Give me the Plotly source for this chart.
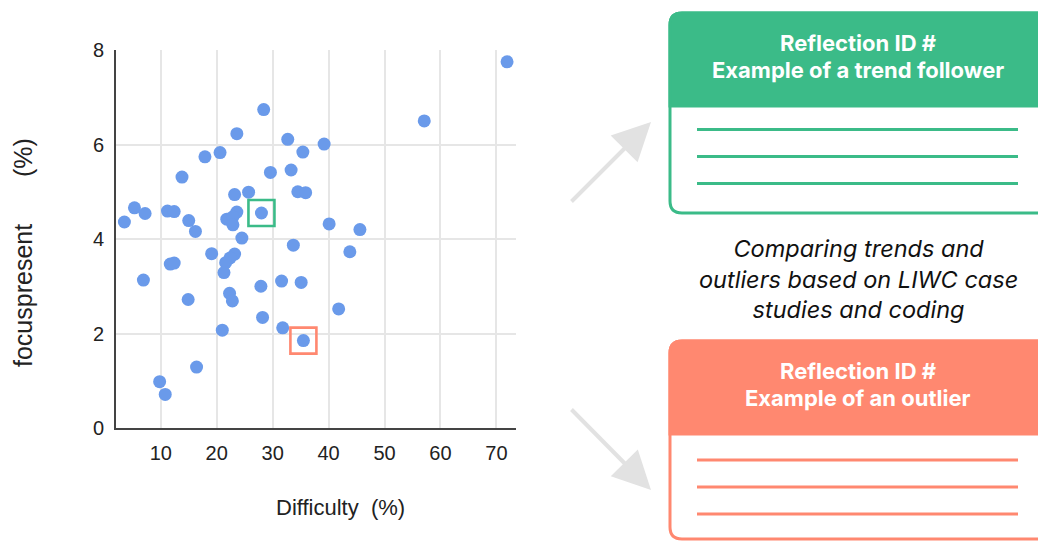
import plotly.graph_objects as go

W, H = 1038, 541

# ---- data ----
difficulty = [71.9, 57.1, 28.4, 23.6, 32.7, 39.2, 35.4, 20.6, 17.9, 13.8,
              29.6, 33.3, 25.7, 23.2, 34.5, 35.9, 5.3, 7.2, 3.5, 11.2,
              12.4, 15.0, 16.2, 28.0, 23.6, 21.8, 22.9, 22.9, 24.5, 40.1,
              45.6, 33.7, 43.8, 19.1, 23.2, 22.4, 21.6, 11.7, 12.4, 21.3,
              6.9, 27.9, 31.6, 35.1, 22.3, 22.8, 14.9, 28.2, 31.8, 21.0,
              35.5, 41.8, 16.4, 9.8, 10.8]
focuspresent = [7.75, 6.50, 6.74, 6.23, 6.11, 6.01, 5.84, 5.83, 5.74, 5.31,
                5.41, 5.46, 4.99, 4.94, 5.00, 4.98, 4.66, 4.54, 4.36, 4.59,
                4.58, 4.39, 4.16, 4.55, 4.57, 4.42, 4.47, 4.30, 4.02, 4.32,
                4.20, 3.87, 3.73, 3.69, 3.68, 3.60, 3.50, 3.47, 3.49, 3.29,
                3.13, 3.00, 3.11, 3.08, 2.85, 2.69, 2.72, 2.34, 2.12, 2.07,
                1.85, 2.52, 1.29, 0.98, 0.71]
trend_idx = 23     # highlighted trend follower
outlier_idx = 50   # highlighted outlier

x_ticks = [10, 20, 30, 40, 50, 60, 70]
y_ticks = [0, 2, 4, 6, 8]

trend_header = ["Reflection ID #", "Example of a trend follower"]
outlier_header = ["Reflection ID #", "Example of an outlier"]
middle_text = ["Comparing trends and", "outliers based on LIWC case", "studies and coding"]

GREEN = "#3BBB88"
ORANGE = "#FF8870"
BLUE = "#6A9AEA"
ARROW = "#E2E2E2"

def px(x):
    return x / W

def py(y):
    return 1 - y / H

fig = go.Figure()
fig.add_trace(go.Scatter(
    x=difficulty, y=focuspresent, mode="markers",
    marker=dict(color=BLUE, size=13, line=dict(width=0)),
    showlegend=False, hoverinfo="x+y"))
fig.add_trace(go.Scatter(
    x=[difficulty[trend_idx]], y=[focuspresent[trend_idx]], mode="markers",
    marker=dict(symbol="square-open", size=26, color=GREEN, line=dict(color=GREEN, width=2.6)),
    showlegend=False, hoverinfo="skip"))
fig.add_trace(go.Scatter(
    x=[difficulty[outlier_idx]], y=[focuspresent[outlier_idx]], mode="markers",
    marker=dict(symbol="square-open", size=26, color=ORANGE, line=dict(color=ORANGE, width=2.6)),
    showlegend=False, hoverinfo="skip"))

tickfont = dict(family="Arial, Liberation Sans, sans-serif", size=20, color="#222")

fig.update_layout(
    width=W, height=H, autosize=False,
    margin=dict(l=0, r=0, t=0, b=0, pad=0, autoexpand=False),
    paper_bgcolor="white", plot_bgcolor="white",
    xaxis=dict(domain=[px(116), px(516)], range=[2, 73.5],
               tickvals=x_ticks, ticktext=[str(v) for v in x_ticks],
               showgrid=True, gridcolor="#E6E6E6", gridwidth=1.5,
               showline=True, linecolor="#444", linewidth=2,
               zeroline=False, ticks="", tickfont=tickfont,
               ticklabelstandoff=6, fixedrange=True, automargin=False),
    yaxis=dict(domain=[py(428), py(50)], range=[0, 8],
               tickvals=y_ticks, ticktext=[str(v) for v in y_ticks],
               showgrid=True, gridcolor="#E6E6E6", gridwidth=1.5,
               showline=True, linecolor="#444", linewidth=2,
               zeroline=False, ticks="", tickfont=tickfont,
               ticklabelstandoff=6, fixedrange=True, automargin=False),
)

shapes = []

def to_path(cmds):
    out = []
    for c in cmds:
        if isinstance(c, str):
            out.append(c)
        else:
            out.append(f"{px(c[0]):.5f},{py(c[1]):.5f}")
    return " ".join(out)

def card(color, top, header_bottom, bottom, lines_y):
    L, R, r = 670, 1060, 12
    d_out = to_path(["M", (R, top), "L", (L + r, top), "Q", (L, top), (L, top + r),
                     "L", (L, bottom - r), "Q", (L, bottom), (L + r, bottom), "L", (R, bottom)])
    shapes.append(dict(type="path", xref="paper", yref="paper", path=d_out,
                       line=dict(color=color, width=3), fillcolor="white", layer="above"))
    d_head = to_path(["M", (R, top), "L", (L + r, top), "Q", (L, top), (L, top + r),
                      "L", (L, header_bottom), "L", (R, header_bottom), "Z"])
    shapes.append(dict(type="path", xref="paper", yref="paper", path=d_head,
                       line=dict(color=color, width=3), fillcolor=color, layer="above"))
    for yy in lines_y:
        shapes.append(dict(type="line", xref="paper", yref="paper",
                           x0=px(697), x1=px(1018), y0=py(yy), y1=py(yy),
                           line=dict(color=color, width=3), layer="above"))

card(GREEN, 13, 106, 213, [129.5, 156.5, 183.5])
card(ORANGE, 341, 434, 539, [460, 487, 514])
fig.update_layout(shapes=shapes)

annotations = []
def text_line(s, x, y, font, angle=0):
    annotations.append(dict(x=px(x), y=py(y), xref="paper", yref="paper",
                            xanchor="center", yanchor="middle", text=s,
                            showarrow=False, textangle=angle, font=font))

head_font = dict(family="Inter, sans-serif", size=22, color="white", weight=700)
for i, s in enumerate(trend_header):
    text_line(s, 858, 43 + 27 * i, head_font)
for i, s in enumerate(outlier_header):
    text_line(s, 858, 371 + 27 * i, head_font)
mid_font = dict(family="Inter, sans-serif", size=23.5, color="#111", style="italic")
text_line("<br>".join(middle_text), 858, 278.5, mid_font)

axis_title_font = dict(family="Arial, Liberation Sans, sans-serif", size=22, color="#222")
text_line("Difficulty\u00a0\u00a0(%)", 340, 507, axis_title_font)
ytitle_font = dict(family="Arial, Liberation Sans, sans-serif", size=25, color="#222")
text_line("focuspresent", 23, 296, ytitle_font, angle=-90)
text_line("(%)", 23, 158, ytitle_font, angle=-90)

# arrows
annotations.append(dict(x=px(651), y=py(122), xref="paper", yref="paper", ax=-81, ay=81, text="",
                        showarrow=True, arrowhead=2, arrowsize=1.9, arrowwidth=4, arrowcolor=ARROW))
annotations.append(dict(x=px(651), y=py(490), xref="paper", yref="paper", ax=-81, ay=-82, text="",
                        showarrow=True, arrowhead=2, arrowsize=1.9, arrowwidth=4, arrowcolor=ARROW))
fig.update_layout(annotations=annotations)

post = ("document.documentElement.style.margin='0';"
        "document.documentElement.style.padding='0';"
        "document.documentElement.style.overflow='hidden';"
        "document.documentElement.style.height='541px';"
        "document.body.style.margin='0';document.body.style.padding='0';"
        "document.body.style.overflow='hidden';document.body.style.height='541px';"
        "var gd=document.getElementById('{plot_id}');"
        "gd.style.position='fixed';gd.style.top='0px';gd.style.left='0px';")

fig.write_html("out.html", config=dict(displayModeBar=False, responsive=False),
               post_script=post)
